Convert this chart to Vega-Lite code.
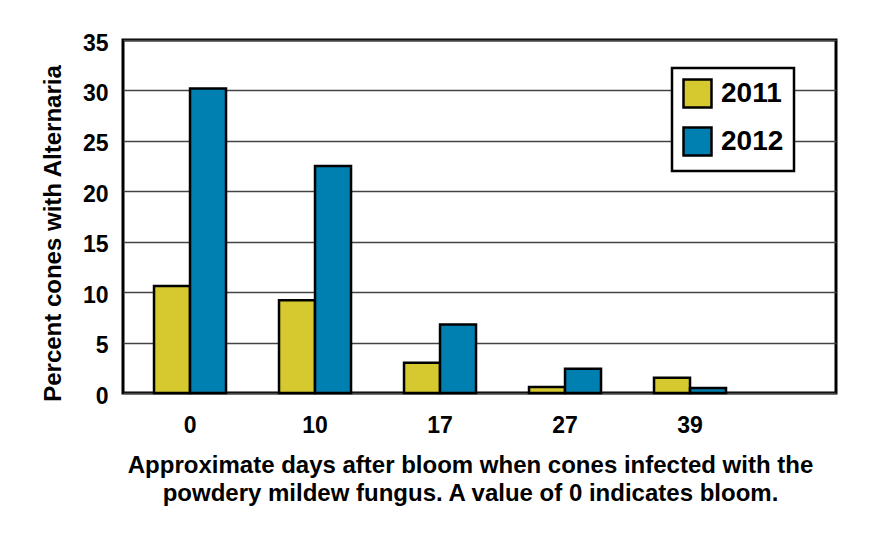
{
  "$schema": "https://vega.github.io/schema/vega-lite/v6.json",
  "autosize": {"type": "none"},
  "padding": {"left": 123, "top": 40, "right": 46, "bottom": 140},
  "width": 713,
  "height": 353,
  "background": "white",
  "data": {
    "values": [
      {"days": "0", "year": "2011", "percent": 10.6},
      {"days": "0", "year": "2012", "percent": 30.2},
      {"days": "10", "year": "2011", "percent": 9.2},
      {"days": "10", "year": "2012", "percent": 22.5},
      {"days": "17", "year": "2011", "percent": 3.0},
      {"days": "17", "year": "2012", "percent": 6.8},
      {"days": "27", "year": "2011", "percent": 0.6},
      {"days": "27", "year": "2012", "percent": 2.4},
      {"days": "39", "year": "2011", "percent": 1.5},
      {"days": "39", "year": "2012", "percent": 0.5}
    ]
  },
  "mark": {"type": "bar", "stroke": "black", "strokeWidth": 2.5},
  "encoding": {
    "x": {
      "field": "days",
      "type": "nominal",
      "sort": ["0", "10", "17", "27", "39"],
      "scale": {"paddingInner": 0.424, "paddingOuter": 0.564, "align": 0.22},
      "axis": {
        "title": ["Approximate days after bloom when cones infected with the", "powdery mildew fungus. A value of 0 indicates bloom."],
        "titleFontSize": 24,
        "titleLineHeight": 28,
        "titleX": 347,
        "titleY": 60,
        "titleBaseline": "top",
        "titleAnchor": "middle",
        "titleAlign": "center",
        "labelAngle": 0,
        "labelFontSize": 23,
        "labelPadding": 21,
        "ticks": false,
        "domain": false
      }
    },
    "xOffset": {
      "field": "year",
      "type": "nominal",
      "scale": {"paddingInner": 0, "paddingOuter": 0}
    },
    "y": {
      "field": "percent",
      "type": "quantitative",
      "scale": {"domain": [0, 35], "nice": false},
      "axis": {
        "title": "Percent cones with Alternaria",
        "titleFontSize": 24,
        "titleX": -70,
        "titleY": 193,
        "titleAngle": -90,
        "titleAlign": "center",
        "titleBaseline": "middle",
        "values": [0, 5, 10, 15, 20, 25, 30, 35],
        "labelFontSize": 23,
        "labelPadding": 15,
        "labelOffset": 3,
        "ticks": false,
        "domain": false,
        "grid": true,
        "gridColor": "#444444",
        "gridWidth": 1.3
      }
    },
    "color": {
      "field": "year",
      "type": "nominal",
      "scale": {"domain": ["2011", "2012"], "range": ["#d5c92f", "#0080b1"]},
      "legend": {
        "title": null,
        "orient": "none",
        "legendX": 549,
        "legendY": 28,
        "fillColor": "white",
        "strokeColor": "black",
        "padding": 10,
        "symbolType": "square",
        "symbolSize": 784,
        "symbolStrokeColor": "black",
        "symbolStrokeWidth": 2.5,
        "symbolOpacity": 1,
        "labelFontSize": 28,
        "labelOffset": 8,
        "rowPadding": 9,
        "encode": {"legend": {"update": {"strokeWidth": {"value": 2.5}}}}
      }
    }
  },
  "config": {
    "font": "Liberation Sans",
    "view": {"stroke": "black", "strokeWidth": 3},
    "axis": {
      "labelFont": "Liberation Sans",
      "labelFontWeight": "bold",
      "labelColor": "black",
      "titleFont": "Liberation Sans",
      "titleFontWeight": "bold",
      "titleColor": "black"
    },
    "legend": {
      "labelFont": "Liberation Sans",
      "labelFontWeight": "bold",
      "labelColor": "black"
    }
  }
}
